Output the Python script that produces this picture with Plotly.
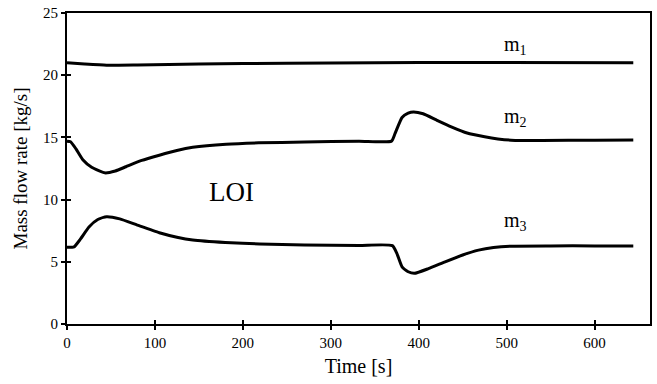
import plotly.graph_objects as go

# Data
t_m1 = [0, 20, 45, 80, 150, 250, 350, 450, 644]
m1 = [21.0, 20.9, 20.8, 20.82, 20.9, 20.97, 21.0, 21.02, 21.0]

t_m2 = [0, 4, 10, 18, 28, 43, 55, 67, 85, 105, 125, 143, 181, 218, 270, 332, 369,
        373, 381, 388, 394, 405, 420, 437, 455, 475, 490, 505, 540, 600, 644]
m2 = [14.7, 14.65, 14.1, 13.2, 12.6, 12.15, 12.3, 12.64, 13.15, 13.57, 13.95, 14.2,
      14.45, 14.56, 14.63, 14.7, 14.7, 15.3, 16.6, 16.95, 17.05, 16.9, 16.4, 15.85,
      15.35, 15.05, 14.88, 14.78, 14.75, 14.78, 14.8]

t_m3 = [0, 8, 15, 25, 35, 45, 60, 80, 105, 125, 143, 180, 219, 270, 332, 370,
        375, 381, 388, 395, 411, 430, 450, 468, 485, 505, 550, 600, 644]
m3 = [6.16, 6.2, 6.8, 7.8, 8.4, 8.62, 8.45, 7.95, 7.34, 6.98, 6.75, 6.55, 6.43, 6.36,
      6.32, 6.3, 5.7, 4.6, 4.2, 4.07, 4.45, 5.0, 5.55, 5.94, 6.15, 6.26, 6.28, 6.28, 6.28]

x_ticks = [0, 100, 200, 300, 400, 500, 600]
y_ticks = [0, 5, 10, 15, 20, 25]

labels = ["m<sub>1</sub>", "m<sub>2</sub>", "m<sub>3</sub>", "LOI"]
label_x = [510, 510, 510, 187]
label_y = [22.4, 16.6, 8.2, 10.6]
label_size = [20, 20, 20, 27]

FONT = "Liberation Serif, Times New Roman, serif"

fig = go.Figure()
for tx, yv in [(t_m1, m1), (t_m2, m2), (t_m3, m3)]:
    fig.add_trace(go.Scatter(x=tx, y=yv, mode="lines",
                             line=dict(color="black", width=3, shape="spline", smoothing=0.5),
                             showlegend=False, hoverinfo="skip"))

for txt, lx, ly, s in zip(labels, label_x, label_y, label_size):
    fig.add_annotation(x=lx, y=ly, text=txt, showarrow=False,
                       font=dict(family=FONT, size=s, color="black"))

xr = [0, 663]
yr = [0, 25]
fig.update_layout(
    width=657, height=384,
    margin=dict(l=67, r=5, t=13, b=60),
    paper_bgcolor="white", plot_bgcolor="white",
    font=dict(family=FONT, color="black", size=15),
    xaxis=dict(range=xr, tickvals=x_ticks, ticks="outside", ticklen=4, tickwidth=1.5,
               tickcolor="black", showline=True, linecolor="black", linewidth=2,
               mirror=True, showgrid=False, zeroline=False,
               title=dict(text="Time [s]", font=dict(size=20), standoff=9),
               tickfont=dict(size=15)),
    yaxis=dict(range=yr, tickvals=y_ticks, ticks="outside", ticklen=4, tickwidth=1.5,
               tickcolor="black", showline=True, linecolor="black", linewidth=2,
               mirror=True, showgrid=False, zeroline=False,
               title=dict(text="Mass flow rate [kg/s]", font=dict(size=19), standoff=10),
               tickfont=dict(size=15)),
    xaxis2=dict(range=xr, overlaying="x", tickvals=x_ticks, ticks="inside", ticklen=4,
                tickwidth=1.5, tickcolor="black", showticklabels=False, showgrid=False,
                zeroline=False, side="bottom", anchor="y"),
    yaxis2=dict(range=yr, overlaying="y", tickvals=y_ticks, ticks="inside", ticklen=4,
                tickwidth=1.5, tickcolor="black", showticklabels=False, showgrid=False,
                zeroline=False, side="left", anchor="x"),
)
# invisible trace to activate the secondary axes (inner tick marks)
fig.add_trace(go.Scatter(x=[None], y=[None], xaxis="x2", yaxis="y2",
                         showlegend=False, hoverinfo="skip"))

fig.write_html("out.html")
